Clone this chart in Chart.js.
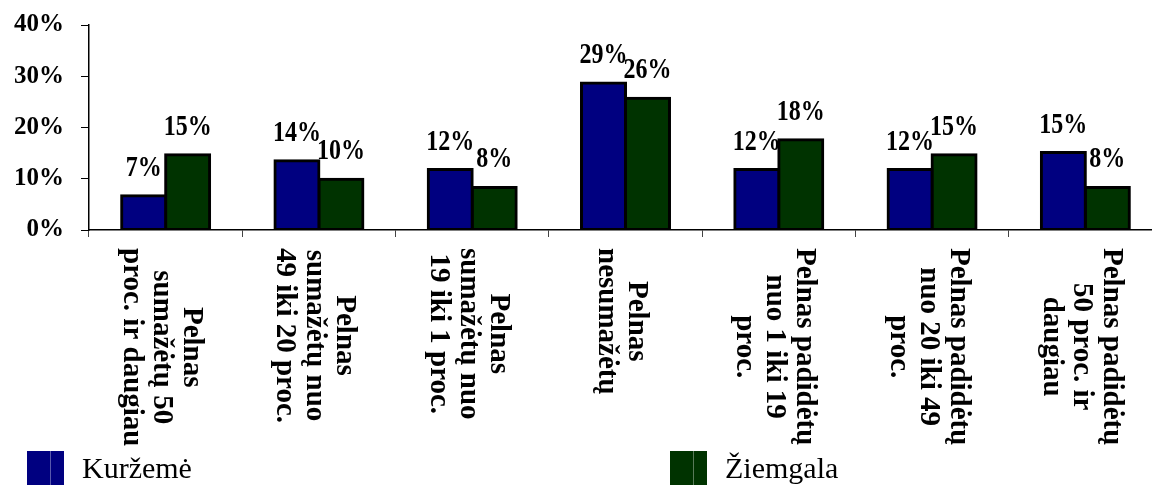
<!DOCTYPE html>
<html><head><meta charset="utf-8">
<script src="https://cdn.jsdelivr.net/npm/chart.js@4"></script>
<style>
html,body{margin:0;padding:0;overflow:hidden;background:#fff;width:1152px;height:485px}
#wrap{position:relative;width:1170px;height:485px}
</style></head>
<body><div id="wrap"><canvas id="c" width="1170" height="485"></canvas></div>
<script>
const categories = [
  ['Pelnas', 'sumažėtų 50', 'proc. ir daugiau'],
  ['Pelnas', 'sumažėtų nuo', '49 iki 20 proc.'],
  ['Pelnas', 'sumažėtų nuo', '19 iki 1 proc.'],
  ['Pelnas', 'nesumažėtų'],
  ['Pelnas padidėtų', 'nuo 1 iki 19', 'proc.'],
  ['Pelnas padidėtų', 'nuo 20 iki 49', 'proc.'],
  ['Pelnas padidėtų', '50 proc. ir', 'daugiau']
];
const seriesNames = ['Kuržemė', 'Žiemgala'];
const kurzeme = [6.7, 13.5, 11.8, 28.7, 11.8, 11.8, 15.1];
const ziemgala = [14.7, 9.9, 8.3, 25.7, 17.6, 14.7, 8.3];
const yTicks = [0, 10, 20, 30, 40];
const colors = ['#000080', '#003300'];

const labelPlugin = {
  id: 'customText',
  afterDraw(chart) {
    const ctx = chart.ctx;
    const xs = chart.scales.x;
    // data labels
    ctx.save();
    ctx.fillStyle = '#000';
    ctx.font = 'bold 30px "Liberation Serif"';
    ctx.textAlign = 'center';
    ctx.textBaseline = 'alphabetic';
    chart.data.datasets.forEach((ds, di) => {
      chart.getDatasetMeta(di).data.forEach((el, i) => {
        ctx.save();
        ctx.translate(el.x, el.y - 20);
        ctx.scale(0.8, 1);
        ctx.fillText(Math.round(ds.data[i]) + '%', 0, 0);
        ctx.restore();
      });
    });
    ctx.restore();
    // category labels, rotated clockwise
    ctx.save();
    ctx.fillStyle = '#000';
    ctx.font = 'bold 29px "Liberation Serif"';
    const lh = 30;
    chart.data.labels.forEach((lines, i) => {
      const x = xs.getPixelForValue(i) - 4;
      const maxW = Math.max(...lines.map(l => ctx.measureText(l).width));
      ctx.save();
      ctx.translate(x, xs.top + 18);
      ctx.rotate(Math.PI / 2);
      ctx.textAlign = 'center';
      ctx.textBaseline = 'middle';
      const n = lines.length;
      lines.forEach((l, k) => ctx.fillText(l, maxW / 2, (k - (n - 1) / 2) * lh));
      ctx.restore();
    });
    ctx.restore();
    // legend
    ctx.save();
    ctx.font = '30px "Liberation Serif"';
    ctx.textBaseline = 'alphabetic';
    ctx.textAlign = 'left';
    const lx = [27, 670];
    chart.data.datasets.forEach((ds, di) => {
      const bx = lx[di];
      ctx.fillStyle = ds.backgroundColor;
      ctx.fillRect(bx, 451, 37, 34);
      ctx.fillStyle = 'rgba(255,255,255,0.35)';
      ctx.fillRect(bx + 23, 451, 1, 34);
      ctx.fillStyle = '#000';
      ctx.fillText(ds.label, bx + 55, 478);
    });
    ctx.restore();
  }
};

new Chart(document.getElementById('c'), {
  type: 'bar',
  data: {
    labels: categories,
    datasets: [
      { label: seriesNames[0], data: kurzeme, backgroundColor: colors[0] },
      { label: seriesNames[1], data: ziemgala, backgroundColor: colors[1] }
    ]
  },
  options: {
    responsive: false,
    animation: false,
    devicePixelRatio: 1,
    layout: { padding: { top: 25, right: 8, left: 0, bottom: 0 } },
    datasets: {
      bar: {
        borderColor: '#000', borderWidth: 3, inflateAmount: 1.5, borderSkipped: false,
        barPercentage: 1, categoryPercentage: 0.574
      }
    },
    plugins: { legend: { display: false }, tooltip: { enabled: false } },
    scales: {
      x: {
        grid: { display: true, drawOnChartArea: false, drawTicks: true, tickLength: 7, color: '#444', offset: true },
        border: { display: true, color: '#000', width: 1.5 },
        ticks: { display: false },
        afterFit(s) { s.height = 255; }
      },
      y: {
        min: 0, max: 40,
        afterBuildTicks(s) { s.ticks = yTicks.map(v => ({ value: v })); },
        ticks: {
          callback: v => v + '%',
          font: { family: 'Liberation Serif', size: 25, weight: 'bold' },
          color: '#000', padding: 17
        },
        grid: { drawOnChartArea: false, tickLength: 8, color: '#000' },
        border: { color: '#000', width: 1.5 },
        afterFit(s) { s.width = 89; s.paddingTop = 12; s.paddingBottom = 12; }
      }
    }
  },
  plugins: [labelPlugin]
});
</script>
</body></html>
